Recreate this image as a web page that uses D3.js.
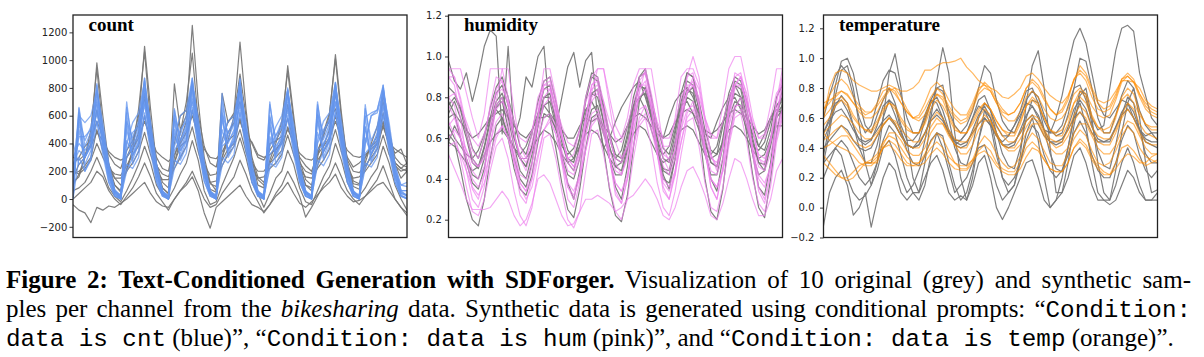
<!DOCTYPE html>
<html><head><meta charset="utf-8">
<script src="https://cdn.jsdelivr.net/npm/d3@7"></script>
<style>
body{margin:0;background:#fff;width:1204px;height:357px;overflow:hidden;position:relative}
svg{display:block;position:absolute;left:0;top:0}
.cap{position:absolute;left:6px;width:1185px;white-space:nowrap;font-family:"Liberation Serif","Times New Roman",serif;color:#000}
.cap .m{font-family:"Liberation Mono","Courier New",monospace}
.cap .b{font-weight:bold}
.cap .i{font-style:italic}
</style>
</head><body>
<svg id="c" width="1204" height="357"></svg>
<script>
// time index: 3-hour steps over 7 days
const steps = d3.range(57);

const countTicks = [-200, 0, 200, 400, 600, 800, 1000, 1200];
const humTicks = [0.2, 0.4, 0.6, 0.8, 1.0, 1.2];
const tempTicks = [-0.2, 0.0, 0.2, 0.4, 0.6, 0.8, 1.0, 1.2];

// ---- count: original (grey)
const countOriginal = [
 [150,250,300,450,980,600,250,100, 50,300,400,550,1100,650,250,80, 40,830,500,600,1250,700,300,120, 60,760,550,620,1130,650,280,100, 80,400,420,500,960,600,250,100, 60,350,450,600,1040,620,260,90, 70,300,380,450,750,500,250,150, 200],
 [250,300,380,420,560,450,320,250, 220,350,420,600,720,520,300,220, 200,400,600,640,820,600,380,260, 230,420,560,600,700,500,400,300, 280,350,420,450,580,420,300,240, 200,320,480,560,650,470,300,230, 260,300,380,420,560,420,330,360, 250],
 [180,200,240,300,500,350,220,180, 170,240,320,380,600,400,240,180, 160,260,380,420,640,440,250,170, 180,280,360,400,580,420,260,200, 200,260,300,350,520,400,260,200, 180,280,340,420,600,420,280,200, 190,240,300,360,540,380,260,220, 200],
 [-40,-80,-100,-170,-60,-80,-50,-60, -30,0,40,80,120,40,-20,-50, -60,0,60,100,160,60,-100,-210, -60,-20,20,60,100,20,-40,-60, -90,-40,20,60,120,40,-30,-60, -20,30,80,120,180,80,20,-20, -10,20,60,100,120,60,0,-60, -120],
 [60,80,120,200,300,200,80,20, -20,60,150,250,380,260,100,30, 0,80,180,260,420,280,60,-40, -20,100,200,300,440,300,120,40, -60,40,150,200,350,250,80,-20, -40,60,160,240,400,280,120,40, 20,80,160,220,380,260,100,0, -80],
 [120,160,300,500,940,500,250,150, 100,200,350,650,1060,550,250,120, 80,300,480,700,1050,560,260,110, 90,300,420,600,900,600,300,160, 120,280,400,560,920,560,280,140, 100,300,480,620,1010,580,260,130, 110,260,400,520,700,480,300,250, 230],
 [100,180,300,400,640,420,200,100, 60,220,350,480,760,460,200,80, 40,260,420,560,820,500,220,70, 50,300,480,550,780,480,260,140, 100,260,350,420,680,440,220,100, 80,240,380,500,760,480,240,110, 100,220,320,400,620,420,260,220, 260],
 [0,40,80,120,200,160,60,0, -40,20,80,160,260,160,40,-20, -80,0,60,120,200,100,0,-60, -40,40,100,160,280,180,60,-20, -100,-40,40,100,200,120,20,-130, -60,20,100,160,260,160,60,0, -40,20,80,140,240,120,0,-60, -100],
 [300,280,320,380,480,420,340,300, 280,300,360,440,560,440,340,300, 270,320,400,480,600,460,360,300, 290,340,420,460,560,440,410,320, 300,320,360,400,500,410,330,290, 280,320,380,440,560,440,350,310, 300,320,360,400,520,400,360,330, 300],
 [200,180,220,280,400,300,220,150, 150,200,260,340,480,320,200,140, 140,220,300,380,520,340,200,120, 130,240,320,380,500,340,220,150, 160,220,260,320,460,320,220,160, 150,220,280,360,500,340,220,150, 160,200,260,320,460,320,240,200, 220]
];
// ---- count: synthetic (blue)
const countSynthetic = [
 [0,650,300,450,830,450,180,40, 0,700,350,500,870,480,200,40, 0,650,380,520,850,500,180,30, 0,760,400,500,860,460,170,30, 0,700,350,480,780,420,160,30, 0,700,380,520,830,460,180,30, 0,680,350,480,800,450,170,30, 0],
 [200,600,550,600,780,500,220,50, 10,400,550,620,850,520,200,40, 10,450,600,640,870,540,210,40, 10,420,560,600,820,500,190,40, 10,400,520,600,790,480,190,40, 10,420,560,620,840,500,200,40, 10,400,600,640,820,500,200,60, 60],
 [100,500,250,350,680,380,150,30, 0,550,280,400,720,400,150,30, 0,500,300,420,760,420,160,30, 0,600,320,420,740,400,150,20, 0,550,300,400,700,380,140,20, 0,600,300,420,760,400,150,20, 0,520,280,380,720,380,150,20, 10],
 [300,400,350,420,620,400,180,50, 20,300,380,460,680,420,180,40, 20,350,420,500,700,440,190,40, 20,380,420,480,680,420,180,40, 20,320,380,440,640,400,170,40, 20,350,400,480,700,420,180,40, 20,330,380,460,660,400,180,40, 30],
 [50,620,200,300,780,550,260,60, 0,620,250,350,800,560,260,60, 0,600,280,380,820,580,270,60, 0,650,300,380,790,560,260,60, 0,600,250,350,760,540,250,60, 0,650,280,380,800,560,260,60, 0,600,260,360,780,550,250,60, 20],
 [150,450,450,500,700,420,200,60, 30,350,480,520,760,440,200,50, 30,380,500,560,800,460,200,50, 30,400,480,540,780,440,200,50, 30,380,460,520,740,420,190,50, 30,400,500,560,780,440,200,50, 30,400,600,620,760,460,200,100, 120],
 [0,300,200,280,560,320,120,20, 0,250,220,300,620,340,120,20, 0,280,250,330,660,360,130,20, 0,300,260,320,640,340,120,20, 0,260,230,300,600,320,120,20, 0,280,240,320,640,340,120,20, 0,260,230,300,620,330,120,20, 0],
 [80,550,300,400,820,380,120,20, 0,500,320,450,870,400,130,20, 0,560,350,480,870,420,130,20, 0,580,350,460,870,400,120,20, 0,520,320,440,800,380,120,20, 0,560,340,460,840,400,120,20, 0,520,320,440,820,380,120,20, 0],
 [250,350,300,380,560,350,160,40, 0,420,320,400,600,380,160,40, 0,450,350,420,640,400,170,40, 0,500,360,420,620,380,160,40, 0,450,330,400,580,360,150,40, 0,480,350,420,620,380,160,40, 0,440,330,400,600,370,160,40, 20],
 [120,660,380,480,720,470,220,50, 10,660,400,520,780,480,220,50, 10,640,420,540,800,500,230,50, 10,700,440,540,800,490,220,50, 10,680,420,520,760,470,210,50, 10,680,430,540,790,480,220,50, 10,650,420,520,770,470,220,50, 30],
 [400,250,300,380,640,430,200,60, 20,200,300,420,700,450,200,50, 20,220,330,450,720,470,210,50, 20,240,340,440,700,450,200,50, 20,220,320,420,660,430,190,50, 20,240,340,440,700,450,200,50, 20,220,320,420,680,440,200,60, 60],
 [0,580,420,520,760,500,240,70, 20,560,440,560,820,520,240,60, 20,580,460,600,840,540,250,60, 20,620,470,580,830,520,240,60, 20,590,450,560,780,500,230,60, 20,610,470,580,820,520,240,60, 20,590,620,640,800,510,240,100, 90]
];

// ---- humidity: original (grey)
const humOriginal = [
 [.98,.88,.84,.92,.78,.9,1.05,1.13, 1.1,.62,1.05,.6,.7,.9,.85,1.0, 1.05,.7,.65,.8,.95,1.02,.85,.98, 1.02,.7,.55,.6,.68,.75,.8,.85, .88,.8,.7,.65,.6,.7,.78,.82, .85,.8,.72,.62,.6,.68,.75,.8, .86,.8,.7,.62,.56,.62,.7,.76, .8],
 [.72,.78,.7,.6,.48,.45,.55,.68, .78,.82,.72,.6,.5,.46,.56,.7, .8,.8,.7,.58,.48,.44,.56,.72, .82,.8,.68,.56,.46,.44,.56,.74, .86,.84,.7,.56,.45,.44,.58,.75, .84,.82,.7,.58,.48,.46,.58,.74, .82,.8,.7,.58,.48,.47,.6,.72, .8],
 [.62,.58,.45,.3,.2,.17,.3,.5, .66,.7,.6,.45,.35,.32,.42,.58, .72,.7,.55,.38,.25,.21,.35,.55, .7,.72,.55,.35,.22,.19,.32,.55, .78,.85,.75,.55,.4,.38,.5,.68, .82,.85,.65,.4,.24,.2,.35,.6, .75,.8,.62,.42,.26,.21,.4,.62, .78],
 [.85,.82,.75,.65,.55,.5,.6,.75, .85,.9,.8,.68,.56,.52,.62,.78, .88,.9,.78,.64,.54,.5,.6,.8, .92,.9,.76,.62,.52,.5,.62,.8, .9,.92,.8,.66,.55,.52,.64,.82, .92,.9,.78,.64,.54,.52,.66,.82, .9,.88,.78,.66,.56,.54,.64,.8, .86],
 [.7,.72,.68,.64,.6,.62,.66,.7, .72,.74,.7,.66,.62,.6,.64,.7, .7,.72,.68,.64,.6,.6,.66,.7, .68,.7,.66,.62,.58,.6,.66,.7, .72,.7,.66,.62,.6,.62,.68,.72, .74,.72,.68,.64,.62,.64,.68,.72, .74,.72,.7,.66,.62,.64,.7,.74, .72],
 [.58,.66,.6,.5,.42,.4,.5,.64, .76,.8,.7,.56,.44,.4,.52,.66, .76,.78,.66,.52,.42,.4,.5,.64, .74,.76,.64,.5,.42,.42,.54,.68, .8,.82,.7,.55,.44,.42,.54,.7, .8,.78,.66,.52,.42,.42,.56,.7, .78,.76,.66,.52,.42,.44,.58,.72, .76],
 [.66,.6,.56,.52,.5,.54,.62,.7, .74,.7,.62,.55,.52,.56,.64,.72, .76,.72,.64,.56,.52,.55,.64,.74, .78,.72,.62,.54,.5,.54,.66,.76, .8,.74,.64,.55,.52,.56,.66,.76, .78,.72,.64,.56,.52,.56,.68,.78, .8,.74,.64,.56,.54,.58,.68,.76, .78],
 [.78,.72,.6,.48,.38,.35,.45,.62, .75,.78,.65,.5,.4,.36,.48,.66, .8,.82,.68,.5,.38,.3,.44,.66, .82,.84,.68,.5,.36,.3,.46,.7, .9,.94,.8,.6,.42,.35,.5,.74, .92,.9,.74,.55,.4,.34,.5,.72, .86,.84,.7,.52,.36,.32,.48,.7, .84],
 [.58,.56,.52,.48,.44,.46,.52,.58, .62,.64,.6,.55,.5,.5,.55,.6, .64,.62,.58,.52,.48,.5,.56,.62, .64,.62,.56,.5,.46,.48,.56,.62, .66,.64,.58,.52,.48,.5,.58,.64, .66,.64,.58,.52,.5,.52,.58,.64, .66,.64,.6,.54,.5,.52,.6,.66, .66],
 [.76,.8,.74,.62,.5,.46,.56,.7, .82,.86,.76,.62,.5,.46,.56,.72, .84,.86,.74,.6,.5,.48,.6,.78, .9,.88,.74,.6,.5,.48,.6,.76, .86,.84,.72,.6,.5,.48,.62,.78, .88,.86,.74,.6,.48,.46,.6,.78, .88,.86,.74,.6,.48,.44,.56,.7, .74]
];
// ---- humidity: synthetic (pink)
const humSynthetic = [
 [.94,.94,.94,.82,.7,.6,.72,.94, .94,.94,.8,.62,.5,.5,.62,.8, .86,.86,.74,.6,.5,.52,.64,.8, .9,.94,.94,.8,.66,.6,.7,.86, .94,.94,.82,.66,.56,.56,.7,.9, .94,.94,.86,.7,.6,.6,.76,.94, 1.0,1.0,.86,.7,.6,.62,.76,.94, .94],
 [.52,.45,.38,.3,.25,.25,.25,.26, .3,.34,.3,.22,.17,.2,.28,.4, .42,.38,.3,.22,.17,.18,.24,.3, .3,.32,.3,.28,.24,.26,.3,.32, .36,.4,.36,.3,.22,.2,.26,.36, .44,.46,.4,.32,.22,.2,.28,.4, .5,.48,.4,.3,.22,.22,.3,.44, .5],
 [.9,.86,.7,.5,.35,.3,.42,.66, .84,.88,.76,.55,.38,.34,.46,.7, .86,.88,.74,.52,.36,.3,.42,.68, .86,.88,.72,.5,.34,.28,.4,.66, .9,.92,.76,.54,.36,.3,.44,.7, .9,.92,.78,.56,.36,.3,.46,.72, .92,.9,.74,.52,.34,.28,.42,.7, .9],
 [.8,.82,.76,.68,.6,.56,.62,.74, .82,.84,.78,.68,.6,.58,.64,.76, .84,.84,.76,.66,.58,.56,.64,.78, .84,.86,.78,.68,.6,.58,.66,.78, .86,.86,.78,.68,.6,.6,.68,.8, .86,.86,.8,.7,.62,.6,.68,.8, .86,.86,.78,.68,.6,.6,.7,.82, .86],
 [.68,.62,.5,.36,.24,.22,.3,.44, .56,.6,.5,.34,.22,.17,.26,.44, .6,.62,.5,.34,.2,.16,.24,.44, .62,.64,.52,.36,.24,.2,.3,.5, .66,.7,.56,.38,.26,.22,.34,.52, .68,.7,.56,.38,.26,.24,.36,.56, .7,.72,.58,.4,.28,.24,.36,.58, .7],
 [.9,.9,.78,.62,.5,.46,.5,.62, .78,.94,.94,.74,.56,.5,.58,.72, .94,.94,.8,.62,.5,.46,.54,.7, .82,.94,.94,.76,.58,.5,.56,.68, .82,.94,.94,.76,.56,.48,.54,.7, .82,.9,.84,.68,.52,.46,.56,.74, .86,.9,.82,.64,.5,.48,.6,.78, .9],
 [.66,.7,.64,.54,.44,.4,.46,.58, .68,.72,.64,.52,.42,.4,.48,.6, .7,.72,.66,.54,.44,.42,.5,.62, .72,.74,.66,.54,.44,.42,.5,.64, .74,.76,.68,.56,.46,.42,.5,.64, .74,.76,.68,.56,.44,.42,.5,.66, .76,.76,.68,.56,.46,.44,.52,.66, .74],
 [.8,.76,.62,.44,.3,.26,.36,.56, .76,.8,.68,.48,.32,.28,.4,.6, .8,.84,.7,.48,.3,.26,.38,.6, .8,.84,.72,.5,.32,.28,.4,.62, .84,.88,.74,.52,.34,.3,.42,.64, .84,.88,.76,.54,.36,.3,.44,.66, .86,.9,.76,.54,.36,.3,.44,.68, .86],
 [.6,.64,.6,.5,.4,.36,.42,.52, .62,.66,.6,.5,.38,.34,.4,.52, .64,.68,.62,.5,.38,.34,.42,.54, .66,.7,.62,.5,.38,.34,.42,.56, .68,.72,.64,.52,.4,.36,.44,.58, .7,.74,.66,.52,.4,.36,.44,.58, .72,.74,.66,.54,.42,.38,.46,.6, .72],
 [.76,.7,.6,.54,.48,.46,.52,.64, .74,.78,.72,.62,.52,.48,.54,.66, .76,.8,.72,.6,.5,.46,.52,.66, .78,.82,.74,.6,.5,.48,.56,.7, .8,.84,.76,.62,.52,.5,.58,.72, .82,.86,.76,.62,.5,.48,.56,.72, .84,.86,.78,.64,.52,.5,.58,.74, .82],
 [.94,.9,.8,.66,.54,.5,.6,.76, .9,.88,.76,.62,.5,.44,.54,.7, .88,.9,.78,.62,.48,.44,.52,.7, .86,.9,.78,.62,.48,.42,.52,.72, .88,.92,.8,.64,.5,.44,.54,.74, .9,1.0,.9,.7,.52,.44,.56,.76, .9,.92,.8,.64,.5,.46,.58,.78, .94],
 [.56,.58,.52,.44,.36,.32,.38,.48, .6,.66,.6,.48,.36,.3,.36,.5, .64,.7,.62,.48,.36,.32,.4,.54, .68,.72,.64,.5,.38,.34,.4,.56, .7,.76,.68,.52,.38,.34,.42,.58, .72,.78,.7,.54,.4,.36,.44,.6, .74,.8,.7,.54,.4,.36,.46,.62, .74]
];

// ---- temperature: original (grey)
const tempOriginal = [
 [.35,.55,.82,.98,1.0,.9,.7,.55, .5,.62,.72,.8,.7,.55,.45,.45, .5,.62,.72,.7,.6,.5,.42,.45, .5,.6,.68,.65,.56,.48,.44,.48, .55,.62,.7,.68,.6,.52,.5,.6, .75,.95,1.12,1.2,1.1,.9,.7,.62, .6,.66,.72,.7,.6,.52,.48,.5, .5],
 [.5,.6,.7,.72,.65,.55,.45,.42, .45,.55,.68,.72,.62,.5,.42,.4, .45,.58,.7,.74,.65,.52,.45,.45, .5,.6,.72,.75,.65,.55,.48,.48, .55,.65,.78,.8,.7,.58,.5,.5, .55,.68,.8,.82,.72,.6,.52,.55, .8,1.05,1.2,1.22,1.18,.9,.75,.6, .55],
 [-.12,.1,.2,.25,.15,-.05,0,.1, -.13,.05,.2,.3,.25,.1,.05,.1, .1,.2,.3,.35,.25,.1,.05,.08, .05,.15,.3,.35,.2,0,-.08,0, .1,.2,.3,.32,.2,.05,0,.05, .1,.2,.35,.4,.3,.15,.05,.05, .02,.05,.15,.25,.2,.1,.05,.05, .1],
 [.3,.5,.75,.92,.95,.8,.55,.3, .15,.3,.6,.9,1.03,.8,.45,.2, .1,.3,.6,.85,1.07,.9,.5,.2, .05,.2,.45,.65,.6,.4,.2,.1, .15,.35,.7,.95,1.05,.8,.4,.1, .1,.3,.55,.75,.8,.6,.3,.1, .05,.25,.5,.7,.8,.6,.3,.1, .12],
 [.4,.45,.5,.55,.52,.45,.4,.38, .4,.48,.55,.6,.55,.48,.42,.4, .42,.5,.58,.62,.58,.5,.44,.42, .44,.5,.56,.6,.55,.48,.42,.42, .44,.5,.58,.62,.56,.48,.44,.44, .46,.52,.6,.64,.58,.5,.44,.44, .46,.54,.62,.66,.6,.52,.46,.44, .44],
 [.45,.55,.68,.75,.7,.55,.4,.3, .3,.42,.6,.72,.68,.52,.38,.3, .28,.45,.65,.8,.82,.6,.4,.3, .28,.42,.6,.7,.65,.5,.36,.28, .26,.4,.6,.72,.7,.52,.36,.26, .24,.4,.62,.78,.76,.56,.38,.28, .26,.42,.62,.74,.7,.52,.36,.3, .3],
 [.2,.3,.4,.35,.2,.1,.05,.08, .15,.25,.4,.45,.35,.2,.1,.15, .25,.35,.45,.5,.4,.25,.1,.15, .2,.3,.4,.42,.3,.15,.05,.1, .15,.3,.5,.6,.45,.2,0,.05, .2,.4,.6,.7,.55,.3,.1,.05, .05,.15,.3,.4,.3,.15,.05,.05, .05],
 [.5,.58,.64,.66,.6,.52,.46,.44, .46,.52,.58,.62,.56,.48,.42,.4, .42,.5,.6,.66,.6,.5,.42,.4, .42,.52,.62,.68,.6,.5,.42,.4, .42,.52,.62,.68,.62,.52,.44,.42, .44,.54,.66,.72,.66,.54,.46,.44, .44,.54,.64,.7,.64,.52,.44,.42, .4],
 [.6,.75,.88,.95,.9,.75,.6,.5, .55,.7,.85,.92,.9,.75,.6,.5, .5,.6,.72,.8,.78,.65,.55,.5, .55,.65,.8,.95,.9,.72,.58,.52, .5,.6,.72,.78,.74,.62,.52,.48, .5,.62,.8,1.0,.98,.8,.6,.5, .5,.62,.75,.85,.8,.65,.55,.5, .45],
 [.3,.35,.4,.45,.4,.3,.2,.15, .2,.3,.45,.55,.5,.35,.2,.1, .05,.15,.35,.5,.48,.3,.15,.05, .1,.25,.45,.6,.55,.35,.2,.15, .2,.3,.45,.55,.5,.35,.25,.2, .25,.35,.5,.58,.5,.35,.25,.2, .2,.3,.45,.55,.5,.35,.25,.2, .25]
];
// ---- temperature: synthetic (orange)
const tempSynthetic = [
 [.6,.8,.9,.92,.9,.85,.82,.8, .78,.78,.8,.82,.8,.78,.78,.8, .84,.92,.92,.95,.97,.97,.98,1.0, .94,.9,.85,.82,.8,.78,.74,.73, .76,.8,.88,.9,.86,.8,.75,.72, .7,.75,.85,.95,.9,.8,.72,.7, .72,.78,.85,.85,.84,.8,.72,.68, .66],
 [.66,.7,.76,.78,.75,.7,.66,.62, .64,.7,.78,.8,.76,.7,.64,.6, .62,.7,.8,.84,.8,.72,.66,.62, .62,.7,.8,.82,.78,.7,.64,.62, .64,.7,.8,.84,.8,.72,.66,.62, .64,.72,.86,.9,.85,.74,.66,.64, .66,.74,.86,.9,.86,.76,.68,.64, .62],
 [.55,.6,.68,.72,.68,.6,.55,.52, .52,.58,.66,.7,.66,.58,.52,.5, .5,.56,.66,.72,.68,.6,.52,.5, .5,.58,.66,.7,.66,.58,.52,.5, .5,.58,.68,.72,.68,.6,.52,.5, .52,.6,.7,.74,.7,.6,.54,.52, .54,.62,.72,.76,.7,.62,.56,.54, .54],
 [.35,.3,.25,.2,.18,.2,.25,.3, .3,.34,.4,.42,.38,.32,.28,.28, .28,.3,.36,.4,.36,.3,.26,.25, .25,.3,.38,.42,.38,.3,.26,.24, .24,.3,.4,.44,.4,.32,.26,.24, .24,.3,.4,.44,.4,.32,.26,.22, .22,.3,.4,.42,.38,.32,.28,.3, .32],
 [.45,.48,.52,.55,.5,.45,.42,.4, .42,.48,.55,.6,.56,.48,.42,.4, .4,.46,.54,.6,.56,.48,.42,.4, .4,.48,.56,.62,.58,.48,.42,.4, .4,.46,.54,.6,.58,.5,.44,.4, .42,.48,.58,.64,.6,.5,.44,.42, .42,.5,.6,.66,.6,.5,.44,.42, .42],
 [.4,.42,.45,.48,.48,.42,.36,.3, .3,.3,.42,.5,.5,.45,.38,.35, .35,.4,.5,.56,.56,.5,.42,.36, .36,.42,.52,.58,.58,.5,.42,.38, .38,.42,.5,.56,.56,.48,.4,.36, .36,.4,.5,.56,.56,.48,.4,.36, .36,.42,.52,.58,.56,.48,.4,.36, .36],
 [.7,.72,.74,.78,.76,.7,.64,.6, .6,.64,.72,.78,.8,.74,.66,.6, .58,.62,.7,.76,.74,.66,.6,.56, .58,.66,.76,.8,.78,.7,.62,.58, .58,.64,.74,.78,.74,.66,.6,.58, .6,.66,.76,.8,.76,.68,.62,.6, .62,.72,.84,.88,.84,.74,.66,.62, .6],
 [.5,.45,.42,.4,.38,.35,.3,.28, .28,.32,.4,.45,.42,.36,.3,.28, .3,.36,.44,.5,.46,.38,.3,.26, .26,.32,.42,.48,.44,.36,.3,.26, .28,.34,.44,.5,.46,.38,.3,.28, .28,.36,.46,.52,.48,.38,.3,.28, .3,.38,.48,.54,.5,.4,.34,.32, .3],
 [.6,.65,.72,.74,.7,.62,.56,.52, .5,.56,.64,.7,.68,.6,.54,.5, .5,.58,.7,.76,.72,.62,.54,.5, .5,.56,.64,.7,.66,.58,.52,.48, .48,.56,.68,.74,.7,.6,.52,.48, .48,.56,.7,.78,.74,.62,.54,.5, .5,.6,.74,.8,.76,.64,.56,.52, .52],
 [.3,.26,.22,.2,.2,.24,.28,.3, .32,.36,.44,.48,.46,.4,.34,.3, .3,.34,.4,.44,.4,.34,.3,.28, .28,.32,.36,.38,.34,.28,.24,.22, .22,.26,.34,.4,.38,.32,.26,.24, .24,.3,.4,.46,.42,.34,.28,.24, .22,.26,.32,.36,.34,.3,.3,.34, .36],
 [.5,.54,.58,.62,.6,.56,.5,.46, .46,.5,.56,.6,.58,.52,.48,.44, .44,.5,.58,.64,.6,.52,.46,.44, .44,.5,.6,.66,.62,.54,.48,.44, .44,.5,.58,.62,.6,.52,.46,.44, .44,.52,.62,.68,.64,.54,.48,.46, .46,.52,.62,.7,.66,.56,.5,.48, .46],
 [.65,.75,.82,.86,.82,.74,.68,.64, .64,.68,.74,.8,.78,.7,.64,.6, .6,.66,.74,.8,.76,.68,.62,.58, .6,.68,.78,.84,.8,.72,.66,.62, .64,.7,.8,.86,.82,.74,.66,.62, .66,.74,.86,.92,.88,.78,.7,.66, .68,.76,.86,.88,.84,.76,.7,.66, .64]
];

const panelTitles = ["count", "humidity", "temperature"];

// ---------- layout / style ----------
const svg = d3.select("#c");
const plotW = 334, plotTop = 15, plotBottom = 237.5;
const panels = [
  {title: panelTitles[0], x0: 73,    orig: countOriginal, syn: countSynthetic, color: "#6495ED", synOpacity: 0.75, synWidth: 1.3,
   domain: [-277, 1325], ticks: countTicks, fmt: d3.format("d"), pad: 2.2},
  {title: panelTitles[1], x0: 448.5, orig: humOriginal, syn: humSynthetic, color: "#EE82EE", synOpacity: 0.7, synWidth: 1.15,
   domain: [0.1127, 1.2034], ticks: humTicks, fmt: d3.format(".1f"), pad: 3.2},
  {title: panelTitles[2], x0: 823.5, orig: tempOriginal, syn: tempSynthetic, color: "#FF8C00", synOpacity: 0.62, synWidth: 1.2,
   domain: [-0.2, 1.289], ticks: tempTicks, fmt: d3.format(".1f"), pad: 5.5}
];

panels.forEach((p, k) => {
  const x = d3.scaleLinear().domain([0, steps.length - 1]).range([p.x0, p.x0 + plotW]);
  const y = d3.scaleLinear().domain(p.domain).range([plotBottom, plotTop]);
  const g = svg.append("g");
  const clipId = "clip" + k;
  svg.append("clipPath").attr("id", clipId).append("rect")
    .attr("x", p.x0).attr("y", plotTop).attr("width", plotW).attr("height", plotBottom - plotTop);
  const line = d3.line().x((d, i) => x(steps[i])).y(d => y(d));
  const lg = g.append("g").attr("clip-path", `url(#${clipId})`);
  lg.selectAll("path.orig").data(p.orig).join("path").attr("class", "orig")
    .attr("d", line).attr("fill", "none").attr("stroke", "#787878")
    .attr("stroke-width", 1.2).attr("stroke-opacity", 0.95).attr("stroke-linejoin", "round");
  lg.selectAll("path.syn").data(p.syn).join("path").attr("class", "syn")
    .attr("d", line).attr("fill", "none").attr("stroke", p.color)
    .attr("stroke-width", p.synWidth).attr("stroke-opacity", p.synOpacity).attr("stroke-linejoin", "round");

  const ax = g.append("g").attr("transform", `translate(${p.x0},0)`)
    .call(d3.axisLeft(y).tickValues(p.ticks).tickSize(3.5).tickPadding(p.pad).tickFormat(p.fmt));
  ax.select(".domain").remove();
  ax.selectAll(".tick line").attr("stroke", "#222").attr("stroke-width", 0.9);
  ax.selectAll(".tick text").attr("font-family", "DejaVu Sans").attr("font-size", 10).attr("fill", "#222");

  g.append("rect").attr("x", p.x0).attr("y", plotTop).attr("width", plotW).attr("height", plotBottom - plotTop)
    .attr("fill", "none").attr("stroke", "#222").attr("stroke-width", 1.3);

  g.append("text").attr("x", p.x0 + 15.5).attr("y", 31).text(p.title)
    .attr("font-family", "Liberation Serif").attr("font-weight", "bold").attr("font-size", 19).attr("fill", "#000");
});

// ---------- caption ----------
const captionLines = [
  [["b", "Figure 2: Text-Conditioned Generation with SDForger."], ["r", " Visualization of 10 original (grey) and synthetic sam-"]],
  [["r", "ples per channel from the "], ["i", "bikesharing"], ["r", " data. Synthetic data is generated using conditional prompts: \u201c"], ["m", "Condition:"]],
  [["m", "data is cnt"], ["r", " (blue)\u201d, \u201c"], ["m", "Condition: data is hum"], ["r", " (pink)\u201d, and \u201c"], ["m", "Condition: data is temp"], ["r", " (orange)\u201d."]]
];
const baselines = [288, 317, 346];
const serifSize = 25;
const body = d3.select("body");
const divs = captionLines.map((parts, li) => {
  const div = body.append("div").attr("class", "cap")
    .style("font-size", serifSize + "px").style("line-height", serifSize + "px")
    .style("text-align", "left").style("text-align-last", li < 2 ? "justify" : "left");
  const inner = div.append("span").attr("class", "inner");
  parts.forEach(([cls, txt]) => inner.append("span").attr("class", cls).text(txt));
  div.append("span").attr("class", "bl").style("display", "inline-block").style("width", "0px").style("height", "0px");
  return div;
});
// calibrate monospace size so that the last line ends where the reference's does
let monoSize = 20;
body.selectAll(".cap .m").style("font-size", monoSize + "px");
let monoW = 0, restW = 0;
divs[2].selectAll(".inner > span").each(function() {
  const w = this.getBoundingClientRect().width;
  if (this.classList.contains("m")) monoW += w; else restW += w;
});
monoSize = monoSize * (1168 - restW) / monoW;
body.selectAll(".cap .m").style("font-size", monoSize + "px");
divs.forEach((d, i) => {
  d.style("top", "0px");
  const blY = d.select(".bl").node().getBoundingClientRect().bottom;
  d.style("top", (baselines[i] - blY) + "px");
});
</script>
</body></html>
